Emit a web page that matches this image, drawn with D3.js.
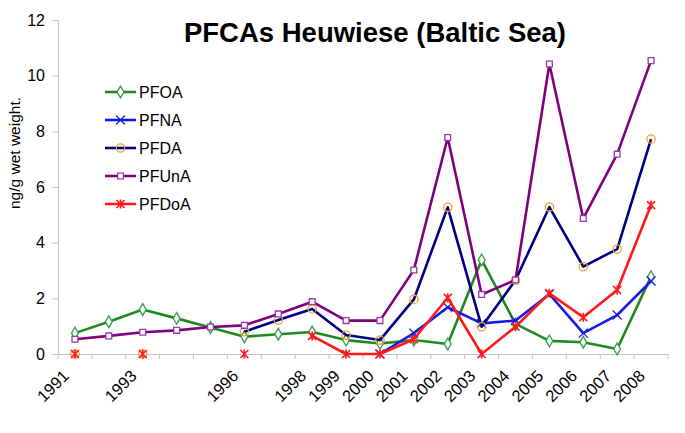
<!DOCTYPE html>
<html>
<head>
<meta charset="utf-8">
<script src="https://cdn.jsdelivr.net/npm/d3@7"></script>
<style>
    body { margin: 0; background: #fff; }
    text { font-family: "Liberation Sans", Arial, sans-serif; fill: #000; }
</style>
</head>
<body>
<div id="chart"></div>
<script>
// categories (blank ones have no label on the axis)
const years = ["1991", "", "1993", "", "", "1996", "", "1998", "1999", "2000",
    "2001", "2002", "2003", "2004", "2005", "2006", "2007", "2008"];

// ng/g wet weight, null = no value
const pfoa = [0.75, 1.16, 1.6, 1.28, 0.95, 0.62, 0.71, 0.79, 0.5, 0.38, 0.5, 0.36, 3.38, 1.08, 0.47, 0.42, 0.18, 2.78];
const pfna = [null, null, null, null, null, null, null, null, null, 0, 0.75, 1.68, 1.1, 1.2, 2.15, 0.75, 1.4, 2.62];
const pfda = [0, null, 0, null, null, 0.8, 1.22, 1.62, 0.68, 0.5, 1.96, 5.27, 0.98, 2.65, 5.28, 3.14, 3.77, 7.72];
const pfuna = [0.53, 0.65, 0.78, 0.85, 0.97, 1.03, 1.44, 1.88, 1.2, 1.2, 3.02, 7.78, 2.14, 2.66, 10.42, 4.87, 7.18, 10.54];
const pfdoa = [0, null, 0, null, null, 0, null, 0.65, 0, 0, 0.53, 2.02, 0, 0.98, 2.18, 1.32, 2.3, 5.35];

const yTicks = [0, 2, 4, 6, 8, 10, 12];

const series = [
    {key: "PFOA", values: pfoa, line: "#1f8a1f", marker: "diamond", mColor: "#2e9e4a"},
    {key: "PFNA", values: pfna, line: "#1a1ae6", marker: "x", mColor: "#1a1ae6"},
    {key: "PFDA", values: pfda, line: "#000080", marker: "circle", mColor: "#f5a030"},
    {key: "PFUnA", values: pfuna, line: "#800080", marker: "square", mColor: "#9a3aa8"},
    {key: "PFDoA", values: pfdoa, line: "#ff1a1a", marker: "star", mColor: "#ff1a1a"}
];

const margin = {top: 20, right: 17, bottom: 79, left: 58},
    width = 685 - margin.left - margin.right,
    height = 433 - margin.top - margin.bottom;

const svg = d3.select("#chart")
    .append("svg")
    .attr("width", width + margin.left + margin.right)
    .attr("height", height + margin.top + margin.bottom)
    .append("g")
    .attr("transform", "translate(" + margin.left + "," + margin.top + ")");

const x = d3.scaleBand()
    .domain(d3.range(years.length))
    .range([0, width]);

const y = d3.scaleLinear()
    .domain([0, 12])
    .range([height, 0]);

const cx = i => x(i) + x.bandwidth() / 2;

// axes
const yAxis = d3.axisLeft(y)
    .tickValues(yTicks)
    .tickSize(6)
    .tickSizeOuter(0)
    .tickPadding(7);

const gy = svg.append("g").attr("class", "y").call(yAxis);
gy.selectAll("text").style("font-size", "16px");

const xAxis = d3.axisBottom(x)
    .tickSize(0)
    .tickFormat(i => years[i]);

const gx = svg.append("g").attr("class", "x")
    .attr("transform", "translate(0," + height + ")")
    .call(xAxis);
gx.selectAll("text")
    .style("font-size", "16.5px")
    .attr("text-anchor", "end")
    .attr("dy", null)
    .attr("y", null)
    .attr("transform", "translate(-5,23) rotate(-45)");

// tick marks between categories
gx.selectAll(".sep")
    .data(d3.range(years.length + 1))
    .enter().append("line")
    .attr("class", "sep")
    .attr("x1", i => i * x.step())
    .attr("x2", i => i * x.step())
    .attr("y1", 0)
    .attr("y2", 5);

svg.selectAll(".domain, .tick line, .sep")
    .attr("stroke", "#c4c4c4")
    .attr("stroke-width", 1);

// lines
const line = d3.line()
    .defined(d => d.v != null)
    .x(d => cx(d.i))
    .y(d => y(d.v));

const sym = {
    diamond: d3.symbol().type(d3.symbolDiamond).size(40)(),
    x: "M-4.5,-4.5L4.5,4.5M-4.5,4.5L4.5,-4.5",
    circle: d3.symbol().type(d3.symbolCircle).size(55)(),
    square: d3.symbol().type(d3.symbolSquare).size(34)(),
    star: "M-4,-4L4,4M-4,4L4,-4M0,-4.5L0,4.5"
};

function drawMarker(sel, s) {
    const open = s.marker === "diamond" || s.marker === "square";
    sel.append("path")
        .attr("d", sym[s.marker])
        .attr("fill", open ? "#fff" : "none")
        .attr("stroke", s.mColor)
        .attr("stroke-width", s.marker === "star" ? 1.7 : 1.3);
}

series.forEach(s => {
    const pts = s.values.map((v, i) => ({i, v}));
    svg.append("path")
        .datum(pts)
        .attr("fill", "none")
        .attr("stroke", s.line)
        .attr("stroke-width", 2.6)
        .attr("stroke-linejoin", "round")
        .attr("d", line);

    svg.append("g")
        .selectAll("g")
        .data(pts.filter(d => d.v != null))
        .enter().append("g")
        .attr("transform", d => "translate(" + cx(d.i) + "," + y(d.v) + ")")
        .each(function () {
            drawMarker(d3.select(this), s);
        });
});

// legend
const legend = svg.append("g")
    .attr("transform", "translate(" + (105 - margin.left) + "," + (92 - margin.top) + ")");

series.forEach((s, k) => {
    const g = legend.append("g").attr("transform", "translate(0," + (k * 28) + ")");
    g.append("line")
        .attr("x1", 0).attr("x2", 31)
        .attr("stroke", s.line)
        .attr("stroke-width", 2.6);
    const m = g.append("g").attr("transform", "translate(15.5,0)");
    drawMarker(m, s);
    g.append("text")
        .attr("x", 34)
        .attr("dy", "0.35em")
        .style("font-size", "16px")
        .text(s.key);
});

// title
svg.append("text")
    .attr("x", 375 - margin.left)
    .attr("y", 42 - margin.top)
    .attr("text-anchor", "middle")
    .style("font-size", "27.5px")
    .style("font-weight", "bold")
    .text("PFCAs Heuwiese (Baltic Sea)");

// y axis title
svg.append("text")
    .attr("transform", "translate(" + (20 - margin.left) + "," + (153 - margin.top) + ") rotate(-90)")
    .attr("text-anchor", "middle")
    .style("font-size", "15.5px")
    .text("ng/g wet weight.");
</script>
</body>
</html>
